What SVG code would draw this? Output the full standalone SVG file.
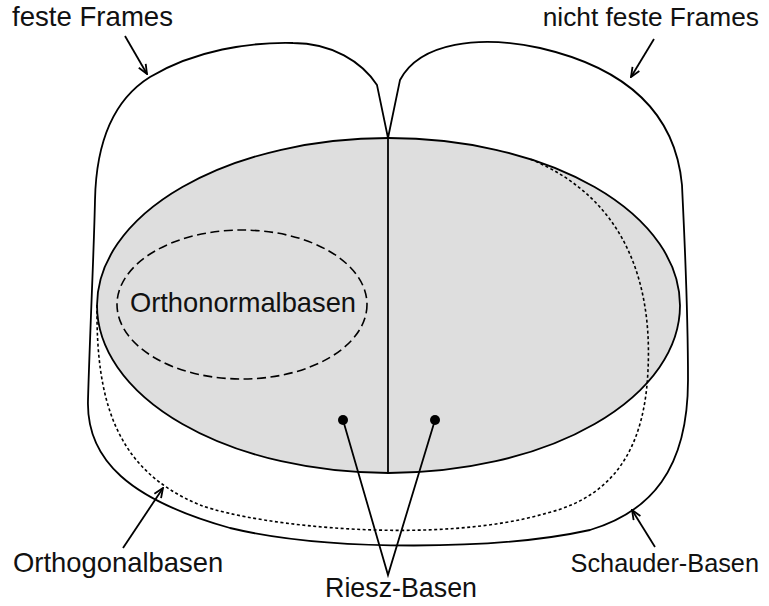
<svg xmlns="http://www.w3.org/2000/svg" width="769" height="606" viewBox="0 0 769 606">
  <style>
    .ln { fill: none; stroke: #000; stroke-width: 1.8; }
    .lbl { font-family: "Liberation Sans", Arial, sans-serif; font-size: 27px; fill: #111; }
    .dotted { fill: none; stroke: #000; stroke-width: 1.6; stroke-dasharray: 3 2.5; }
    .dashed { fill: none; stroke: #000; stroke-width: 1.6; stroke-dasharray: 9 4.5; }
  </style>
  <defs>
    <marker id="arr" viewBox="0 0 12 10" refX="11" refY="5" markerWidth="12" markerHeight="10" markerUnits="userSpaceOnUse" orient="auto">
      <path d="M1.5,1 L11,5 L1.5,9" fill="none" stroke="#000" stroke-width="1.8"/>
    </marker>
  </defs>
  <rect width="769" height="606" fill="#fff"/>

  <g id="frames-schauder">
    <path class="ln" d="M388,138 L377,85 C362,62 332,43 293,43 C250,42 195,50 150,77 C110,102 96,150 95,200 C94,250 90,330 88,400 C86,460 130,500 230,528 C330,552 500,550 590,530 C650,512 688,470 688,380 C688,300 684,230 682,185 C676,120 635,70 540,48 C480,35 420,42 400,80 Z"/>
  </g>

  <g id="riesz-basen">
    <ellipse cx="388.5" cy="305.5" rx="291.5" ry="167.5" fill="#dedede" stroke="#000" stroke-width="1.8"/>
    <line class="ln" x1="388" y1="138" x2="388" y2="473"/>
  </g>

  <g id="orthogonalbasen">
    <path class="dotted" d="M97,305 C96,400 115,470 200,505 C260,527 440,545 547,513 C620,495 645,440 648,370 C652,290 630,200 530,159"/>
  </g>

  <g id="orthonormalbasen">
    <ellipse class="dashed" cx="242" cy="304.5" rx="125" ry="74.5"/>
    <text class="lbl" x="243" y="312" text-anchor="middle" style="font-size:27.3px">Orthonormalbasen</text>
  </g>

  <g id="labels">
    <text id="lbl-feste" class="lbl" x="12" y="26" style="font-size:27.6px">feste Frames</text>
    <text id="lbl-nicht-feste" class="lbl" x="759" y="26" text-anchor="end" style="font-size:26.3px">nicht feste Frames</text>
    <text id="lbl-orthogonal" class="lbl" x="13" y="572" style="font-size:27.4px">Orthogonalbasen</text>
    <text id="lbl-schauder" class="lbl" x="759" y="572" text-anchor="end" style="font-size:25.3px">Schauder-Basen</text>
    <text id="lbl-riesz" class="lbl" x="401" y="597" text-anchor="middle" style="font-size:26.8px">Riesz-Basen</text>
  </g>

  <g id="connectors">
    <line class="ln" x1="125" y1="36" x2="147" y2="74" marker-end="url(#arr)"/>
    <line class="ln" x1="654" y1="39" x2="631" y2="77" marker-end="url(#arr)"/>
    <line class="ln" x1="123" y1="548" x2="163" y2="488" marker-end="url(#arr)"/>
    <line class="ln" x1="655" y1="547" x2="632" y2="510" marker-end="url(#arr)"/>
    <polyline class="ln" points="343,420 388,575 435,420"/>
    <circle cx="343" cy="420" r="5" fill="#000"/>
    <circle cx="435" cy="420" r="5" fill="#000"/>
  </g>
</svg>
